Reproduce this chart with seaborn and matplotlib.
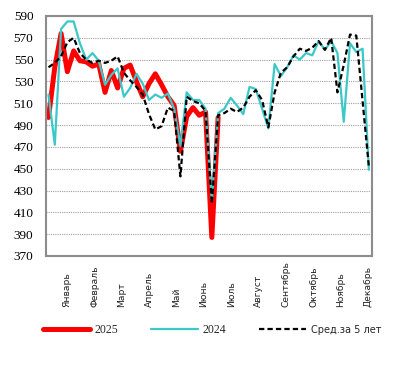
import numpy as np
import pandas as pd
import matplotlib
matplotlib.use("Agg")
import matplotlib.pyplot as plt
import seaborn as sns

# weekly values
weeks = list(range(1, 53))
months = ["Январь", "Февраль", "Март", "Апрель", "Май", "Июнь",
          "Июль", "Август", "Сентябрь", "Октябрь", "Ноябрь", "Декабрь"]

y2025 = [497, 543, 574, 539, 558, 549, 548, 544, 546, 520, 540, 524, 542, 545,
         530, 516, 528, 537, 527, 516, 508, 466, 498, 506, 499, 502, 387, 497]

y2024 = [518, 472, 578, 585, 585, 565, 550, 556, 549, 527, 536, 542, 516, 524,
         537, 528, 513, 518, 515, 519, 505, 471, 520, 513, 513, 505, 421, 501,
         505, 515, 508, 500, 525, 523, 505, 487, 546, 535, 543, 554, 550, 556,
         554, 567, 559, 567, 556, 493, 565, 557, 560, 449]

avg5 = [543, 547, 553, 566, 570, 556, 550, 547, 549, 547, 549, 553, 538, 531,
        525, 518, 500, 486, 489, 506, 503, 443, 516, 512, 510, 503, 418, 499,
        501, 505, 502, 506, 516, 522, 513, 488, 520, 538, 543, 553, 560, 558,
        561, 567, 559, 570, 520, 545, 573, 572, 512, 452]

sns.set_style("white")

fig = plt.figure(figsize=(4.07, 3.65), dpi=100)
ax = fig.add_axes([46 / 407, 109 / 365, 326 / 407, 240 / 365])

# draw order: 2025 at the bottom, average on top
sns.lineplot(x=weeks[:len(y2025)], y=y2025, ax=ax, color="#ff0000", lw=3.6,
             label="2025", solid_joinstyle="round", solid_capstyle="round")
sns.lineplot(x=weeks, y=y2024, ax=ax, color="#3cc8c8", lw=1.6, label="2024")
sns.lineplot(x=weeks, y=avg5, ax=ax, color="black", lw=1.6,
             dashes=(2.4, 1.4), label="Сред.за 5 лет")

ax.set_xlim(0.6, 52.5)
ax.set_ylim(370, 590)
ax.set_yticks(np.arange(370, 591, 20))
ax.yaxis.grid(True, linestyle=(0, (1, 1)), color="#a0a0a0", lw=0.8)
ax.xaxis.grid(False)

ax.set_xticks(np.linspace(4.0, 51.9, 12))
ax.set_xticklabels(months, rotation=90, rotation_mode="anchor",
                   ha="left", va="center", fontsize=6.6, family="DejaVu Sans",
                   color="#222222")
ax.tick_params(axis="x", length=0, pad=37)
ax.tick_params(axis="y", length=0, pad=9)
for lbl in ax.get_yticklabels():
    lbl.set_family("Liberation Serif")
    lbl.set_fontsize(9.5)
    lbl.set_color("black")

for sp in ax.spines.values():
    sp.set_color("#8c8c8c")
    sp.set_linewidth(1.5)

ax.set_xlabel("")
ax.set_ylabel("")

leg = ax.legend(loc="center", bbox_to_anchor=(212 / 407, 1 - 330 / 365),
                bbox_transform=fig.transFigure, ncol=3, frameon=False,
                handlelength=4.0, handletextpad=0.35, columnspacing=2.8,
                fontsize=8.5)
for txt in leg.get_texts()[:2]:
    txt.set_family("Liberation Serif")
leg.get_texts()[2].set_family("DejaVu Sans")
leg.get_texts()[2].set_fontsize(7)

fig.savefig("out.png", dpi=100)
